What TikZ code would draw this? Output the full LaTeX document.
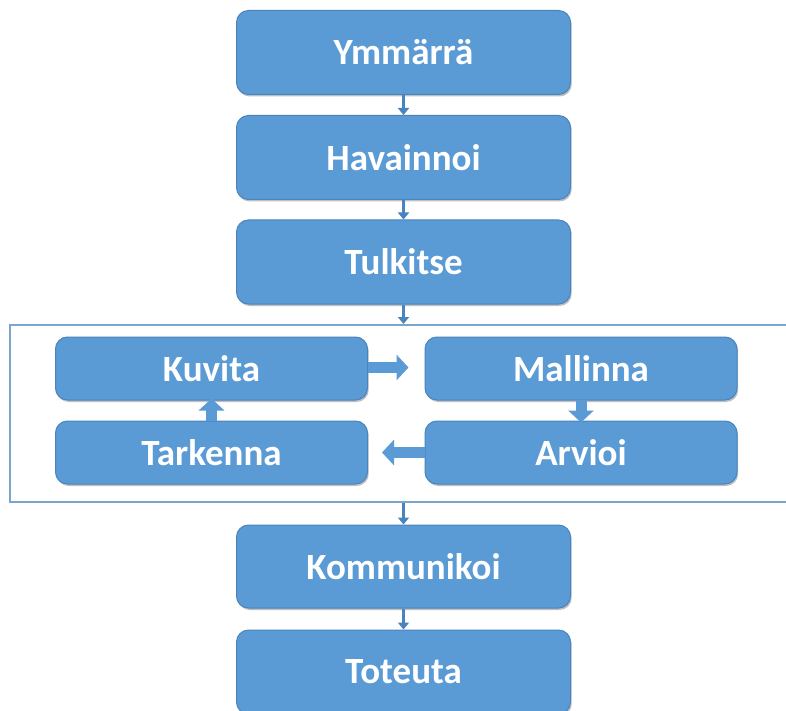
\documentclass[tikz,border=0pt]{standalone}
\usepackage{fontspec}
\setmainfont{Carlito}
\usetikzlibrary{arrows.meta,shadows}
\definecolor{boxblue}{HTML}{5B9BD5}
\definecolor{boxedge}{HTML}{4A84BE}
\definecolor{frameline}{HTML}{7AA5CC}
\begin{document}
\begin{tikzpicture}[x=1pt,y=-1pt,
  blk/.style={draw=boxedge, line width=1pt, fill=boxblue, rounded corners=12pt,
    text=white, font=\bfseries\fontsize{37}{44}\selectfont, inner sep=0pt,
    drop shadow={shadow xshift=1.2pt, shadow yshift=-2pt, opacity=0.35, fill=black!70}},
  mainbox/.style={blk, minimum width=334pt, minimum height=84pt},
  loopbox/.style={blk, minimum width=312pt, minimum height=63pt},
  thinarrow/.style={draw=boxedge, line width=2.6pt, -{Triangle[width=11pt,length=7pt]}},
  fatarrow/.style={draw=boxblue, line width=11pt, -{Triangle[width=25pt,length=12pt]}},
  framebox/.style={draw=frameline, line width=2pt, minimum width=790pt, minimum height=177pt, inner sep=0pt}
]
\useasboundingbox (0,0) rectangle (786,711);
\clip (0,0) rectangle (786,711);
\fill[white] (0,0) rectangle (786,711);

\node[framebox] (loop) at (405,413.5) {};

\node[mainbox] (ymm) at (403.5,52.5) {Ymmärrä};
\node[mainbox] (hav) at (403.5,157.5) {Havainnoi};
\node[mainbox] (tul) at (403.5,262) {Tulkitse};
\node[mainbox, minimum height=83pt] (kom) at (403.5,566.5) {Kommunikoi};
\node[mainbox] (tot) at (403.5,672) {Toteuta};

\node[loopbox] (kuv) at (211.5,368.5) {Kuvita};
\node[loopbox] (tar) at (211.5,452.5) {Tarkenna};
\node[loopbox] (mal) at (581,368.5) {Mallinna};
\node[loopbox] (arv) at (581,452.5) {Arvioi};

\draw[thinarrow] (ymm.south) -- (hav.north);
\draw[thinarrow] (hav.south) -- (tul.north);
\draw[thinarrow] (tul.south) -- (tul.south |- loop.north);
\draw[thinarrow] (kom.north |- loop.south) -- (kom.north);
\draw[thinarrow] (kom.south) -- (tot.north);

\draw[fatarrow] ([yshift=1pt]kuv.east) -- ([xshift=-16pt,yshift=1pt]mal.west);
\draw[fatarrow] (mal.south) -- ([yshift=-2pt]arv.north);
\draw[fatarrow] (arv.west) -- ([xshift=14pt]tar.east);
\draw[fatarrow] (tar.north) -- ([yshift=2pt]kuv.south);
\end{tikzpicture}
\end{document}
